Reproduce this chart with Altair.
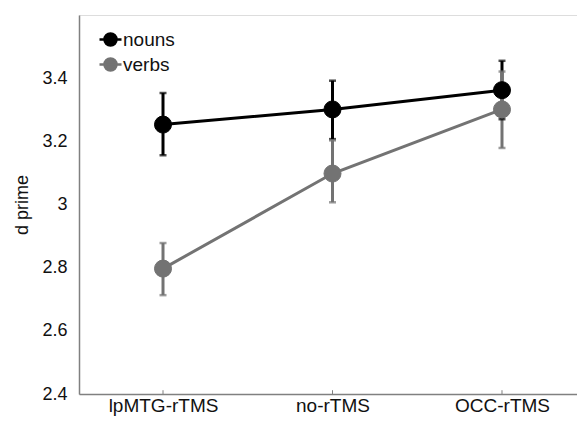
import altair as alt
import pandas as pd

categories = ["lpMTG-rTMS", "no-rTMS", "OCC-rTMS"]
series = ["nouns", "verbs"]
nouns_mean = [3.253, 3.301, 3.362]
nouns_low = [3.156, 3.207, 3.270]
nouns_high = [3.353, 3.392, 3.455]
verbs_mean = [2.797, 3.098, 3.301]
verbs_low = [2.713, 3.007, 3.179]
verbs_high = [2.878, 3.203, 3.421]
colors = ["#000000", "#737373"]
y_ticks = [2.4, 2.6, 2.8, 3.0, 3.2, 3.4]

rows = []
for s, m, lo, hi in [("nouns", nouns_mean, nouns_low, nouns_high),
                     ("verbs", verbs_mean, verbs_low, verbs_high)]:
    for i, c in enumerate(categories):
        rows.append({"series": s, "cond": c, "idx": i, "mean": m[i], "lo": lo[i], "hi": hi[i]})
df = pd.DataFrame(rows)
tick_df = pd.DataFrame({"idx": list(range(len(categories))), "y0": [2.4] * 3, "y1": [2.412] * 3})

label_expr = "[" + ",".join("'" + c + "'" for c in categories) + "][datum.value]"
FONT = "Liberation Sans"

xscale = alt.Scale(domain=[-0.4956, 2.4425], nice=False, zero=False)
yscale = alt.Scale(domain=[2.4, 3.6], nice=False, zero=False)
cscale = alt.Scale(domain=series, range=colors)

x_enc = alt.X("idx:Q", scale=xscale,
              axis=alt.Axis(values=[0, 1, 2], labelExpr=label_expr, title=None, grid=False,
                            ticks=False, labelFontSize=19, labelPadding=2))
y_enc = alt.Y("mean:Q", scale=yscale,
              axis=alt.Axis(values=y_ticks, labelExpr="format(datum.value, '.1~f')",
                            title="d prime", grid=False, ticks=False, labelFontSize=18,
                            labelPadding=12, titleFontSize=18, titlePadding=10))

legend = alt.Legend(
    title=None, orient="none", legendX=16, legendY=15,
    symbolType="M-2.2,0H2.2M1.2,0A1.2,1.2,0,1,1,-1.2,0A1.2,1.2,0,1,1,1.2,0Z",
    symbolSize=100, symbolStrokeWidth=2.5, symbolOpacity=1, labelFontSize=19, labelFont=FONT,
    labelColor="#111", rowPadding=2, labelOffset=3, symbolOffset=6,
)
col = alt.Color("series:N", scale=cscale, legend=legend)

base = alt.Chart(df)

lines = base.mark_line(strokeWidth=3).encode(
    x=x_enc, y=y_enc, color=col, detail="series:N")

err = base.mark_rule(strokeWidth=3).encode(x="idx:Q", y="lo:Q", y2="hi:Q", color=col)
cap_lo = base.mark_tick(orient="horizontal", size=7, thickness=2.5).encode(
    x="idx:Q", y="lo:Q", color=col)
cap_hi = base.mark_tick(orient="horizontal", size=7, thickness=2.5).encode(
    x="idx:Q", y="hi:Q", color=col)

points = base.mark_point(filled=True, size=290, opacity=1, strokeWidth=1).encode(
    x="idx:Q", y="mean:Q", color=col,
    stroke=alt.Stroke("series:N", scale=cscale, legend=legend),
)

inner_ticks = alt.Chart(tick_df).mark_rule(color="#808080", strokeWidth=1).encode(
    x="idx:Q", y="y0:Q", y2="y1:Q")

chart = alt.layer(lines, inner_ticks, err, cap_lo, cap_hi, points).properties(
    width=498, height=379,
    autosize=alt.AutoSizeParams(type="none"),
    padding={"left": 71, "top": 7, "right": 0, "bottom": 23},
).configure_view(stroke=None).configure(background="white").configure_axis(
    labelFont=FONT, titleFont=FONT, labelColor="#111", titleColor="#111",
    titleFontWeight="normal", domainColor="#808080", domainWidth=1.5,
)

chart.save("out.html", embed_options={"renderer": "svg", "actions": False})
